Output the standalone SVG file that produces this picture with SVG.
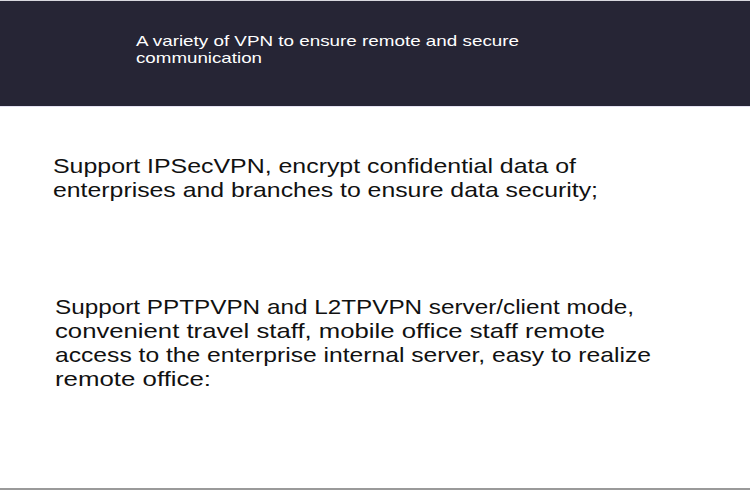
<svg xmlns="http://www.w3.org/2000/svg" width="750" height="490" viewBox="0 0 750 490">
<style>
.hd{font-family:"Liberation Sans","Noto Sans",sans-serif;font-size:15px;fill:#ffffff}
.bd{font-family:"Liberation Sans","Noto Sans",sans-serif;font-size:21px;fill:#111111}
</style>
<rect x="0" y="0" width="750" height="490" fill="#ffffff"/>
<g id="header">
<rect x="0" y="0" width="750" height="106" fill="#262535"/>
<rect x="0" y="0" width="750" height="1" fill="#d8d8de"/>
<rect x="0" y="106" width="750" height="1" fill="#e4e2f2"/>
<text class="hd" x="136" y="46" textLength="383" lengthAdjust="spacingAndGlyphs">A variety of VPN to ensure remote and secure</text>
<text class="hd" x="136" y="63" textLength="126" lengthAdjust="spacingAndGlyphs">communication</text>
</g>
<g id="para1">
<text class="bd" x="53" y="173" textLength="523" lengthAdjust="spacingAndGlyphs">Support IPSecVPN, encrypt confidential data of</text>
<text class="bd" x="53" y="197" textLength="545" lengthAdjust="spacingAndGlyphs">enterprises and branches to ensure data security;</text>
</g>
<g id="para2">
<text class="bd" x="55" y="314" textLength="579" lengthAdjust="spacingAndGlyphs">Support PPTPVPN and L2TPVPN server/client mode,</text>
<text class="bd" x="55" y="338" textLength="550" lengthAdjust="spacingAndGlyphs">convenient travel staff, mobile office staff remote</text>
<text class="bd" x="55" y="362" textLength="596" lengthAdjust="spacingAndGlyphs">access to the enterprise internal server, easy to realize</text>
<text class="bd" x="55" y="386" textLength="156" lengthAdjust="spacingAndGlyphs">remote office:</text>
</g>
<rect x="0" y="488" width="750" height="2" fill="#9a9a9a"/>
</svg>
